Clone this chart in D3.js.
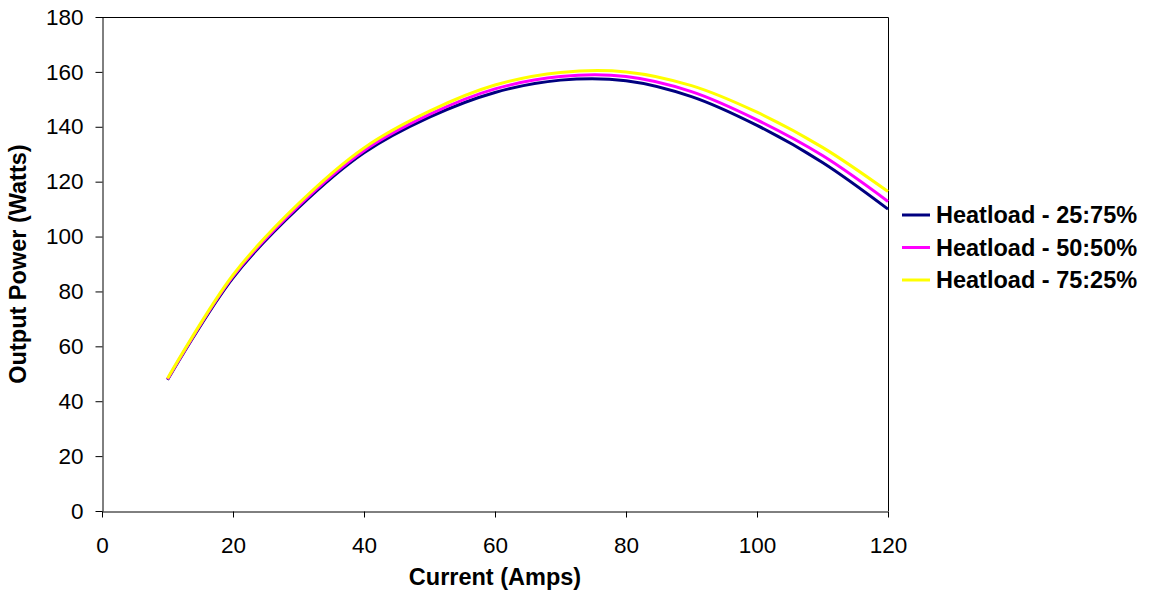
<!DOCTYPE html>
<html>
<head>
<meta charset="utf-8">
<script src="https://cdn.jsdelivr.net/npm/d3@7"></script>
<style>
  body { margin: 0; background: #fff; }
  svg { font-family: "Liberation Sans", Arial, sans-serif; }
</style>
</head>
<body>
<svg class="chart" width="1149" height="592"></svg>
<script>
// Current values (Amps)
let current = [10, 20, 30, 40, 50, 60, 70, 80, 90, 100, 110, 120];

// Output power (Watts)
let heat2575 = [47.8, 85, 110.5, 130.5, 143.5, 152.5, 157, 156.8, 151, 140.5, 127, 110];
let heat5050 = [48, 85.5, 111.2, 131.3, 144.5, 153.8, 158.3, 158.3, 152.8, 142.5, 129.5, 112.8];
let heat7525 = [48.3, 86, 112, 132.3, 145.7, 155.2, 159.8, 160, 155, 145.3, 132.5, 116.4];

let seriesNames = ["Heatload - 25:75%", "Heatload - 50:50%", "Heatload - 75:25%"];
let seriesColors = ["#000080", "#ff00ff", "#ffff00"];

let xTicks = [0, 20, 40, 60, 80, 100, 120];
let yTicks = [0, 20, 40, 60, 80, 100, 120, 140, 160, 180];

function drawChart(svgClass) {
    let svg = d3.select(svgClass);

    let plot = { left: 102, top: 17, right: 888, bottom: 511 };

    let x = d3.scaleLinear().domain([0, 120]).range([plot.left, plot.right]);
    let y = d3.scaleLinear().domain([0, 180]).range([plot.bottom, plot.top]);

    // Plot border (top and right)
    svg.append("path")
        .attr("d", "M" + plot.left + "," + (plot.top + 0.5) + "H" + (plot.right + 0.5) + "V" + plot.bottom)
        .attr("fill", "none")
        .attr("stroke", "#000")
        .attr("stroke-width", 1);

    // Axes
    let yAxis = svg.append("g")
        .attr("transform", "translate(" + (plot.left + 0.5) + ",0)")
        .call(d3.axisLeft(y).tickValues(yTicks).tickSize(7).tickPadding(12).tickSizeOuter(0));

    let xAxis = svg.append("g")
        .attr("transform", "translate(0," + (plot.bottom + 0.5) + ")")
        .call(d3.axisBottom(x).tickValues(xTicks).tickSize(6).tickPadding(20).tickSizeOuter(0));

    [xAxis, yAxis].forEach(a => {
        a.selectAll("text")
            .attr("font-family", "Liberation Sans, Arial, sans-serif")
            .attr("font-size", 22.5)
            .attr("fill", "#000");
        a.selectAll("line, path").attr("stroke", "#000");
    });

    // Lines
    let line = d3.line()
        .x((d, i) => x(current[i]))
        .y(d => y(d))
        .curve(d3.curveCatmullRom.alpha(0.5));

    [heat2575, heat5050, heat7525].forEach((values, i) => {
        svg.append("path")
            .datum(values)
            .attr("d", line)
            .attr("fill", "none")
            .attr("stroke", seriesColors[i])
            .attr("stroke-width", 3);
    });

    // Axis titles
    svg.append("text")
        .attr("x", (plot.left + plot.right) / 2)
        .attr("y", 577)
        .attr("dy", "0.35em")
        .attr("text-anchor", "middle")
        .attr("font-size", 23.5)
        .attr("font-weight", "bold")
        .text("Current (Amps)");

    svg.append("text")
        .attr("transform", "translate(18," + ((plot.top + plot.bottom) / 2) + ") rotate(-90)")
        .attr("dy", "0.35em")
        .attr("text-anchor", "middle")
        .attr("font-size", 23.5)
        .attr("font-weight", "bold")
        .text("Output Power (Watts)");

    // Legend
    let legend = svg.append("g").attr("transform", "translate(902,215)");
    seriesNames.forEach((name, i) => {
        let row = legend.append("g").attr("transform", "translate(0," + (i * 32.5) + ")");
        row.append("line")
            .attr("x1", 0).attr("x2", 28)
            .attr("y1", 0).attr("y2", 0)
            .attr("stroke", seriesColors[i])
            .attr("stroke-width", 3);
        row.append("text")
            .attr("x", 34)
            .attr("dy", "0.35em")
            .attr("font-size", 23.5)
            .attr("font-weight", "bold")
            .text(name);
    });
}

drawChart(".chart");
</script>
</body>
</html>
